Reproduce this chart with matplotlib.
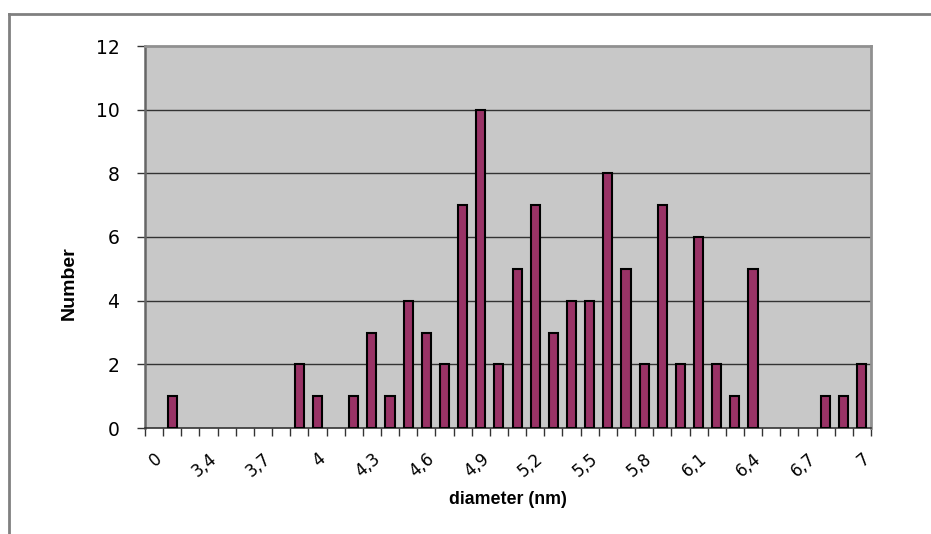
import matplotlib
matplotlib.use("Agg")
import matplotlib.pyplot as plt
from matplotlib.lines import Line2D
from matplotlib.transforms import ScaledTranslation

plt.rcParams['font.family'] = ['Liberation Sans', 'DejaVu Sans']

# Diameter classes (nm) and the count of particles in each class
diameters = ["0", "3,2", "3,3", "3,4", "3,5", "3,6", "3,7", "3,8", "3,9", "4",
             "4,1", "4,2", "4,3", "4,4", "4,5", "4,6", "4,7", "4,8", "4,9", "5",
             "5,1", "5,2", "5,3", "5,4", "5,5", "5,6", "5,7", "5,8", "5,9", "6",
             "6,1", "6,2", "6,3", "6,4", "6,5", "6,6", "6,7", "6,8", "6,9", "7"]
counts = [0, 1, 0, 0, 0, 0, 0, 0, 2, 1,
          0, 1, 3, 1, 4, 3, 2, 7, 10, 2,
          5, 7, 3, 4, 4, 8, 5, 2, 7, 2,
          6, 2, 1, 5, 0, 0, 0, 1, 1, 2]
y_ticks = [0, 2, 4, 6, 8, 10, 12]

W, H = 931, 534
fig = plt.figure(figsize=(W / 100, H / 100), dpi=100)
fig.patch.set_facecolor('white')

# outer chart frame (top and left edges)
fig.add_artist(Line2D([9 / W, 1.0], [1 - 14 / H, 1 - 14 / H], color='#808080', lw=2,
                      transform=fig.transFigure))
fig.add_artist(Line2D([9 / W, 9 / W], [0, 1 - 14 / H], color='#808080', lw=2,
                      transform=fig.transFigure))

left, right, top, bottom = 145, 871, 46, 428
ax = fig.add_axes([left / W, 1 - bottom / H, (right - left) / W, (bottom - top) / H])
ax.set_facecolor('#C8C8C8')

# only non-empty classes get a bar (empty ones would leave an outline stub)
xs = [i for i, c in enumerate(counts) if c > 0]
hs = [counts[i] for i in xs]
ax.bar(xs, hs, width=0.5, color='#993366', edgecolor='black', linewidth=1.5, zorder=3)

ax.set_xlim(-0.5, len(diameters) - 0.5)
ax.set_ylim(0, 12)

ax.set_yticks(y_ticks)
ax.set_yticklabels([str(v) for v in y_ticks], fontdict=dict(family='DejaVu Sans', size=13.5))
for v in y_ticks[1:-1]:
    ax.axhline(v, color='#333333', lw=1, zorder=1)

# ticks between categories, labels on every third class
ax.set_xticks([i - 0.5 for i in range(len(diameters) + 1)], minor=False)
ax.set_xticklabels([''] * (len(diameters) + 1))
lab_idx = list(range(0, len(diameters), 3))
ax.set_xticks(lab_idx, minor=True)
ax.set_xticklabels([diameters[i] for i in lab_idx], minor=True, rotation=40,
                   ha='right', va='top', rotation_mode='anchor',
                   fontdict=dict(family='DejaVu Sans', size=12))
shift = ScaledTranslation(-3 / 100, 0, fig.dpi_scale_trans)
for lbl in ax.get_xticklabels(minor=True):
    lbl.set_transform(lbl.get_transform() + shift)
ax.tick_params(axis='x', which='major', length=6, width=1, color='#333333', direction='out')
ax.tick_params(axis='x', which='minor', length=0, pad=15.5)
ax.tick_params(axis='y', length=6, width=1, color='#333333', direction='out', pad=12.5)

for side in ('top', 'right'):
    ax.spines[side].set_color('#909090')
    ax.spines[side].set_linewidth(2)
ax.spines['left'].set_color('#666666')
ax.spines['left'].set_linewidth(1.8)
ax.spines['bottom'].set_color('#333333')
ax.spines['bottom'].set_linewidth(1.2)

fig.text(508 / W, 1 - 499 / H, 'diameter (nm)', ha='center', va='center',
         fontsize=12.8, fontweight='bold')
fig.text(69 / W, 1 - 283 / H, 'Number', ha='center', va='center', rotation=90,
         fontsize=14, fontweight='bold')

fig.savefig('out.png', dpi=100)
